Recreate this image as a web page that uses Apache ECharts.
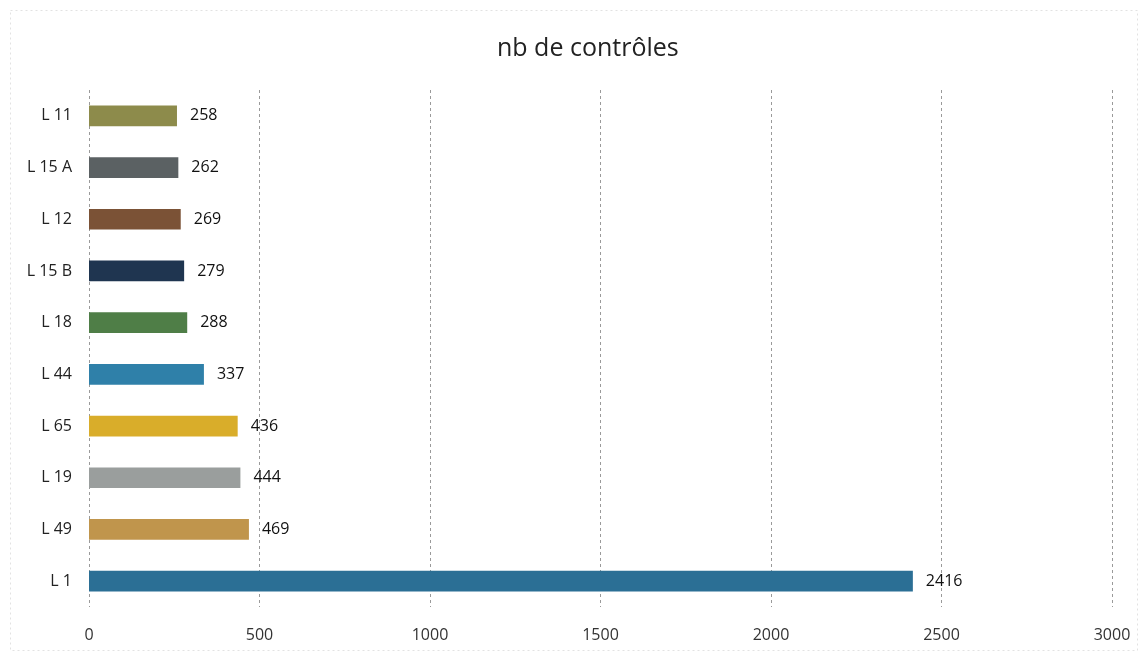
<!DOCTYPE html>
<html><head><meta charset="utf-8">
<script src="https://cdn.jsdelivr.net/npm/echarts@6/dist/echarts.min.js"></script>
<style>html,body{margin:0;padding:0;background:#fff;}#c{width:1143px;height:653px;}</style>
</head><body><div id="c"></div>
<script>
var categories = ['L 1','L 49','L 19','L 65','L 44','L 18','L 15 B','L 12','L 15 A','L 11'];
var values = [2416, 469, 444, 436, 337, 288, 279, 269, 262, 258];
var colors = ['#2b6f95','#c0954c','#9a9e9d','#d9ad2a','#2f80a9','#4f7e47','#1f3550','#7b5236','#5b6163','#8d8b4b'];
var xTicks = [0, 500, 1000, 1500, 2000, 2500, 3000];
var chart = echarts.init(document.getElementById('c'));
chart.setOption({
  backgroundColor: '#fff',
  graphic: [{ type: 'rect', left: 8, top: 8, shape: { width: 1127, height: 640 },
    style: { fill: 'none', stroke: '#e2e2e2', lineWidth: 1, lineDash: [2,3] }, silent: true }],
  title: { text: 'nb de contrôles', left: 492, top: 31,
    textStyle: { fontFamily: 'Open Sans', fontSize: 25, fontWeight: 'normal', color: '#222' } },
  grid: { left: 89, right: 31, top: 90, bottom: 46 },
  xAxis: { type: 'value', min: 0, max: 3000, interval: 500,
    axisLine: { show: false }, axisTick: { show: false },
    axisLabel: { fontFamily: 'Open Sans', fontSize: 16, color: '#333', margin: 20,
      formatter: function(v){ return xTicks.indexOf(v) >= 0 ? String(v) : ''; } },
    splitLine: { show: true, lineStyle: { color: '#9a9a9a', type: [3,3], width: 1 } } },
  yAxis: { type: 'category', data: categories,
    axisLine: { show: false }, axisTick: { show: false },
    axisLabel: { fontFamily: 'Open Sans', fontSize: 16, color: '#222', margin: 17 } },
  series: [{ type: 'bar', barWidth: '40%',
    data: values.map(function(v, i){ return { value: v, itemStyle: { color: colors[i] } }; }),
    label: { show: true, position: 'right', distance: 13, fontFamily: 'Open Sans', fontSize: 16, color: '#111' } }]
});
</script></body></html>
